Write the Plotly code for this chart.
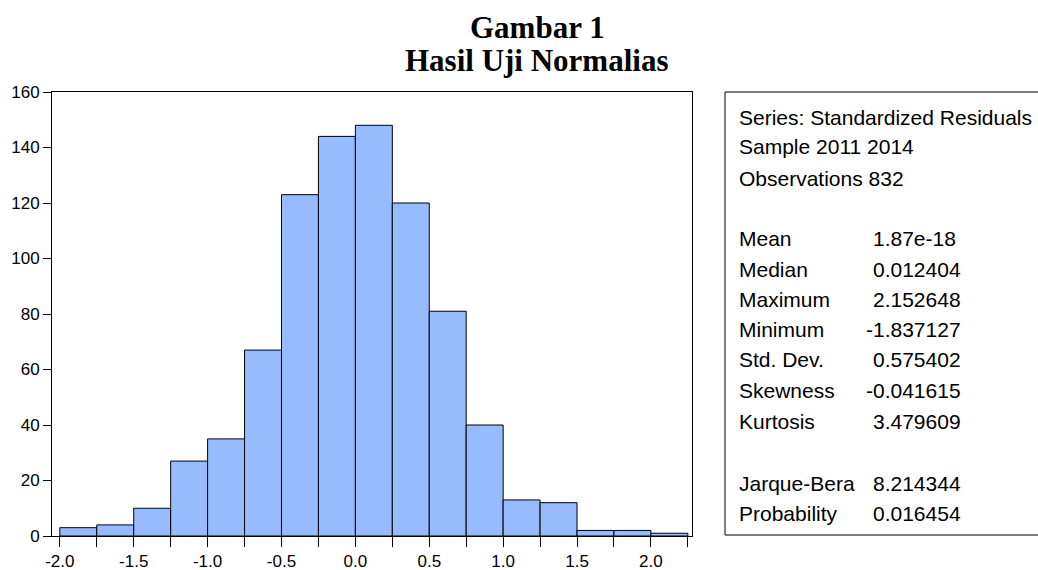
import plotly.graph_objects as go

bin_start = [-2.0, -1.75, -1.5, -1.25, -1.0, -0.75, -0.5, -0.25, 0.0, 0.25, 0.5, 0.75, 1.0, 1.25, 1.5, 1.75, 2.0]
counts = [3, 4, 10, 27, 35, 67, 123, 144, 148, 120, 81, 40, 13, 12, 2, 2, 1]
bin_width = 0.25

x_tickvals = [-2.0, -1.5, -1.0, -0.5, 0.0, 0.5, 1.0, 1.5, 2.0]
x_ticktext = ["-2.0", "-1.5", "-1.0", "-0.5", "0.0", "0.5", "1.0", "1.5", "2.0"]
y_tickvals = [0, 20, 40, 60, 80, 100, 120, 140, 160]

title_lines = ["Gambar 1", "Hasil Uji Normalias"]
header_lines = ["Series: Standardized Residuals", "Sample 2011 2014", "Observations 832"]
stat_labels = ["Mean", "Median", "Maximum", "Minimum", "Std. Dev.", "Skewness", "Kurtosis"]
stat_values = ["1.87e-18", "0.012404", "2.152648", "-1.837127", "0.575402", "-0.041615", "3.479609"]
test_labels = ["Jarque-Bera", "Probability"]
test_values = ["8.214344", "0.016454"]

W, H = 1038, 570
L, R, T, B = 52, 692, 92, 536

fig = go.Figure()
fig.add_trace(go.Bar(
    x=bin_start, y=counts, width=bin_width, offset=0,
    marker=dict(color="rgb(150,188,255)", line=dict(color="black", width=1)),
    showlegend=False, hoverinfo="skip",
))

axis_font = dict(family="Liberation Sans, Arial, sans-serif", size=17, color="black")
fig.update_layout(
    width=W, height=H, autosize=False,
    margin=dict(l=L, r=W - R, t=T, b=H - B, pad=0),
    paper_bgcolor="white", plot_bgcolor="white",
    bargap=0,
    xaxis=dict(
        range=[-2.053, 2.278], tickvals=x_tickvals, ticktext=x_ticktext,
        ticks="outside", ticklen=10, tickcolor="black", tickwidth=1,
        minor=dict(dtick=0.25, tick0=0, ticks="outside", ticklen=10, tickcolor="black", tickwidth=1),
        showgrid=False, zeroline=False,
        showline=True, linecolor="black", linewidth=1, mirror=True,
        tickfont=axis_font, automargin=False,
    ),
    yaxis=dict(
        range=[0, 160], tickvals=y_tickvals,
        ticks="outside", ticklen=8, tickcolor="black", tickwidth=1,
        showgrid=False, zeroline=False,
        showline=True, linecolor="black", linewidth=1, mirror=True,
        tickfont=axis_font, automargin=False,
    ),
)

pw = R - L
ph = B - T


def px(xp):
    return (xp - L) / pw


def py(yp):
    return (B - yp) / ph


title_font = dict(family="Liberation Serif, Times New Roman, serif", size=31, color="black")
for s, yy in zip(title_lines, [27, 61]):
    fig.add_annotation(text="<b>" + s + "</b>", xref="paper", yref="paper", x=px(537), y=py(yy),
                       xanchor="center", yanchor="middle", showarrow=False, font=title_font)

# stats box
fig.add_shape(type="rect", xref="paper", yref="paper",
              x0=px(725), x1=px(1045), y0=py(535), y1=py(92),
              line=dict(color="black", width=1), fillcolor="rgba(0,0,0,0)")

txt_font = dict(family="Liberation Sans, Arial, sans-serif", size=21, color="black")
header_y = [117, 147, 178]
for s, yy in zip(header_lines, header_y):
    fig.add_annotation(text=s, xref="paper", yref="paper", x=px(737), y=py(yy),
                       xanchor="left", yanchor="middle", showarrow=False, font=txt_font)

stat_y = [239, 269, 299, 329, 359, 390, 421]
for lab, val, yy in zip(stat_labels, stat_values, stat_y):
    fig.add_annotation(text=lab, xref="paper", yref="paper", x=px(737), y=py(yy),
                       xanchor="left", yanchor="middle", showarrow=False, font=txt_font)
    xr = 958 if "e" in val else 963
    fig.add_annotation(text=val, xref="paper", yref="paper", x=px(xr), y=py(yy),
                       xanchor="right", yanchor="middle", showarrow=False, font=txt_font)

test_y = [483, 513]
for lab, val, yy in zip(test_labels, test_values, test_y):
    fig.add_annotation(text=lab, xref="paper", yref="paper", x=px(737), y=py(yy),
                       xanchor="left", yanchor="middle", showarrow=False, font=txt_font)
    fig.add_annotation(text=val, xref="paper", yref="paper", x=px(963), y=py(yy),
                       xanchor="right", yanchor="middle", showarrow=False, font=txt_font)

fig.write_html(
    "out.html",
    config={"displayModeBar": False, "responsive": False, "staticPlot": True},
    default_width="1038px", default_height="570px",
    post_script="document.body.style.margin='0';document.body.style.overflow='hidden';",
)
